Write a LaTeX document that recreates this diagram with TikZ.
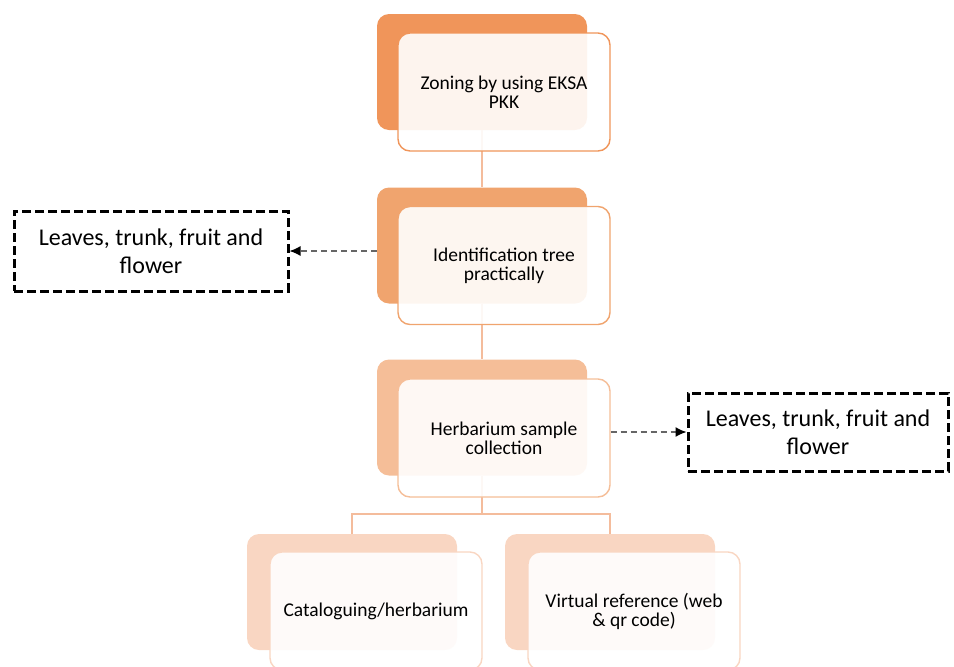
\documentclass[tikz,border=0pt]{standalone}
\usepackage{fontspec}
\setmainfont{Carlito}
\usetikzlibrary{arrows.meta}
\definecolor{orA}{HTML}{F0955A}
\definecolor{orB}{HTML}{F0A46E}
\definecolor{orC}{HTML}{F5BE98}
\definecolor{orD}{HTML}{F9D6C2}
\definecolor{linkc}{HTML}{F4BC9C}
\begin{document}
\begin{tikzpicture}[x=1pt,y=-1pt,
	backbox/.style={rectangle, rounded corners=12pt, minimum width=210pt, minimum height=116pt, inner sep=0pt},
	frontbox/.style={rectangle, rounded corners=12pt, draw, line width=1.4pt, fill=white, fill opacity=0.9, text opacity=1,
		minimum width=212pt, minimum height=118pt, align=center, font=\fontsize{19.5}{19}\selectfont},
	notebox/.style={rectangle, draw, line width=3pt, dash pattern=on 9pt off 4pt, align=center,
		font=\fontsize{24}{28}\selectfont},
	link/.style={draw=linkc, line width=1.3pt},
	dasharrow/.style={draw=black!60, line width=1.3pt, dash pattern=on 6pt off 4pt,
		-{Latex[length=11pt,width=10pt,black]}}]
	\useasboundingbox (0,0) rectangle (954,667);

	\node[backbox, fill=orA] (zoneB) at (482, 72) {};
	\node[backbox, fill=orB] (identB) at (482, 245.5) {};
	\node[backbox, fill=orC] (herbB) at (482, 417.5) {};
	\node[backbox, fill=orD] (catB) at (352, 592) {};
	\node[backbox, fill=orD] (virtB) at (610, 592) {};
	\coordinate (split) at (482, 514);

	\draw[link] (zoneB) -- (identB);
	\draw[link] (identB) -- (herbB);
	\draw[link] (herbB) -- (split);
	\draw[link] (split) -| (catB);
	\draw[link] (split) -| (virtB);

	\node[frontbox, draw=orA] (zone) at (504, 92) {Zoning by using EKSA\\PKK};
	\node[frontbox, draw=orB] (ident) at (504, 265.5) {Identification tree\\practically};
	\node[frontbox, draw=orC] (herb) at (504, 438) {Herbarium sample\\collection};
	\node[frontbox, draw=orD] (cat) at (376, 611) {Cataloguing/herbarium};
	\node[frontbox, draw=orD] (virt) at (634, 611) {Virtual reference (web\\\& qr code)};

	\node[notebox, minimum width=274pt, minimum height=80pt] (leftnote) at (151, 251) {Leaves, trunk, fruit and\\flower};
	\node[notebox, minimum width=260pt, minimum height=78pt] (rightnote) at (818, 432) {Leaves, trunk, fruit and\\flower};

	\draw[dasharrow] (identB.west |- leftnote.east) -- (leftnote.east);
	\draw[dasharrow] (herb.east |- rightnote.west) -- (rightnote.west);
\end{tikzpicture}
\end{document}
